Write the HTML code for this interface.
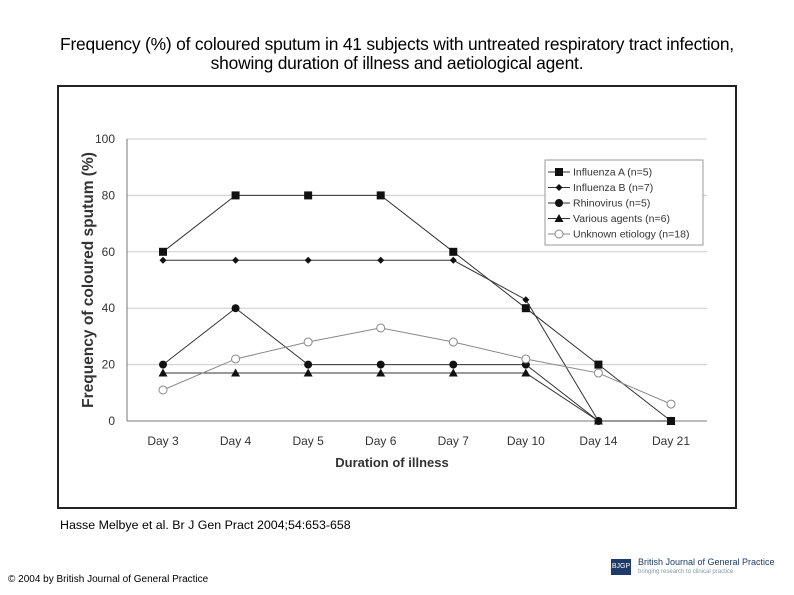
<!DOCTYPE html>
<html><head><meta charset="utf-8"><style>
body{margin:0;width:794px;height:595px;background:#fff;font-family:"Liberation Sans",sans-serif;position:relative;overflow:hidden}
.t{position:absolute;left:0;width:794px;text-align:center;font-size:17.4px;top:35px;line-height:19px;color:#000;letter-spacing:-0.2px}
#frame{position:absolute;left:57px;top:85px;width:676px;height:420px;border:2px solid #222;background:#fff}
.cite{position:absolute;left:60px;top:518px;font-size:12.4px}
.copy{position:absolute;left:8px;top:574px;font-size:10px}
</style></head><body>
<div class="t">Frequency (%) of coloured sputum in 41 subjects with untreated respiratory tract infection,<br>showing duration of illness and aetiological agent.</div>
<div id="frame"></div>
<svg id="chart" width="794" height="595" style="position:absolute;left:0;top:0"></svg>
<div class="cite">Hasse Melbye et al. Br J Gen Pract 2004;54:653-658</div>
<div class="copy">© 2004 by British Journal of General Practice</div>
<div style="position:absolute;left:611px;top:559px;width:20px;height:16px;background:#1d3a6a;color:#fff;font-size:7px;line-height:16px;text-align:center">BJGP</div>
<div style="position:absolute;left:638px;top:557px;font-size:9px;color:#1d3a6a">British Journal of General Practice</div>
<div style="position:absolute;left:638px;top:569px;font-size:6px;color:#8899aa">bringing research to clinical practice</div>
<script>
const categories=["Day 3","Day 4","Day 5","Day 6","Day 7","Day 10","Day 14","Day 21"];
const yTicks=[0,20,40,60,80,100];
const seriesNames=["Influenza A (n=5)","Influenza B (n=7)","Rhinovirus (n=5)","Various agents (n=6)","Unknown etiology (n=18)"];
const influenzaA=[60,80,80,80,60,40,20,0];
const influenzaB=[57,57,57,57,57,43,0,0];
const rhinovirus=[20,40,20,20,20,20,0,0];
const various=[17,17,17,17,17,17,0,0];
const unknown=[11,22,28,33,28,22,17,6];
const series=[influenzaA,influenzaB,rhinovirus,various,unknown];
const markers=["square","diamond","circle","triangle","open"];
const NS="http://www.w3.org/2000/svg";
const svg=document.getElementById('chart');
const L=127,R=707,T=139,B=421;
const x=i=>L+36+(R-L-72)*i/(categories.length-1);
const y=v=>B-(B-T)*v/100;
function el(tag,a,parent){const e=document.createElementNS(NS,tag);for(const k in a)e.setAttribute(k,a[k]);(parent||svg).appendChild(e);return e;}
yTicks.forEach(v=>{
 const g=el('line',{x1:L,x2:R,y1:y(v),y2:y(v),stroke:v===0?'#777':'#ccc','stroke-width':1});
 
 
 const t=el('text',{x:L-12,y:y(v)+4,'text-anchor':'end','font-size':12,fill:'#333'});t.textContent=v;
 
 
});
const ax=el('line',{x1:L,x2:L,y1:T,y2:B,stroke:'#777'});


categories.forEach((c,i)=>{
 const t=el('text',{x:x(i),y:B+24,'text-anchor':'middle','font-size':12,fill:'#333'});t.textContent=c;
 
 
});
const xt=el('text',{x:392,y:467,'text-anchor':'middle','font-size':13,'font-weight':'bold',fill:'#333'});xt.textContent='Duration of illness';


const yt=el('text',{x:0,y:0,transform:'translate(93,280) rotate(-90)','text-anchor':'middle','font-size':15.5,'font-weight':'bold',fill:'#333'});yt.textContent='Frequency of coloured sputum (%)';


function marker(type,cx,cy,g){
 if(type==='square')el('rect',{x:cx-4,y:cy-4,width:8,height:8,fill:'#111'},g);
 else if(type==='diamond')el('polygon',{points:`${cx},${cy-3.5} ${cx+3.5},${cy} ${cx},${cy+3.5} ${cx-3.5},${cy}`,fill:'#111'},g);
 else if(type==='circle')el('circle',{cx,cy,r:4,fill:'#111'},g);
 else if(type==='triangle')el('polygon',{points:`${cx},${cy-4.5} ${cx+4.5},${cy+3.5} ${cx-4.5},${cy+3.5}`,fill:'#111'},g);
 else el('circle',{cx,cy,r:4,fill:'#fff',stroke:'#888','stroke-width':1},g);
}
series.forEach((s,k)=>{
 const g=el('g',{});
 
 
 el('polyline',{points:s.map((v,i)=>x(i)+','+y(v)).join(' '),fill:'none',stroke:k===4?'#888':'#333','stroke-width':1},g);
 s.forEach((v,i)=>marker(markers[k],x(i),y(v),g));
});
const lg=el('g',{});


el('rect',{x:545,y:160,width:158,height:85,fill:'#fff',stroke:'#999'},lg);
seriesNames.forEach((n,k)=>{
 const yy=172+k*15.5;
 const e=el('g',{},lg);
 
 
 el('line',{x1:548,x2:570,y1:yy,y2:yy,stroke:k===4?'#888':'#333'},e);
 marker(markers[k],559,yy,e);
 const t=el('text',{x:573,y:yy+3.5,'font-size':10.5,fill:'#333'},e);t.textContent=n;
});
</script>
</body></html>
